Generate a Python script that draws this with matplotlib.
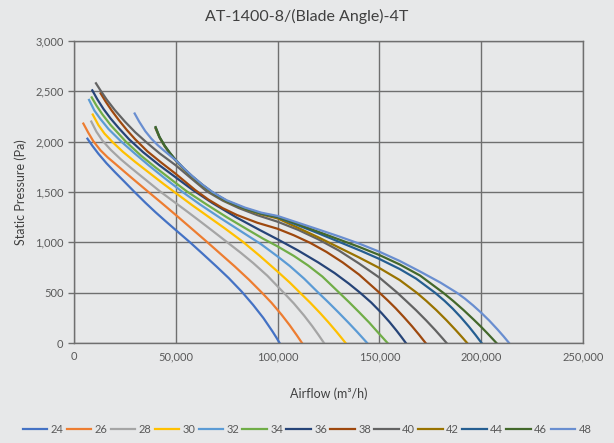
import matplotlib
matplotlib.use("Agg")
import matplotlib.pyplot as plt
from matplotlib.ticker import FuncFormatter

plt.rcParams['font.family'] = ['Lato', 'DejaVu Sans']

angles = ['24', '26', '28', '30', '32', '34', '36', '38', '40', '42', '44', '46', '48']
colors = ['#4472C4', '#ED7D31', '#A5A5A5', '#FFC000', '#5B9BD5', '#70AD47',
          '#264478', '#9E480E', '#636363', '#997300', '#255E91', '#43682B', '#698ED0']

# airflow (thousand m3/h) and static pressure (Pa) for each blade angle
q24 = [6.6, 9, 12, 16, 20, 25, 29.5, 35, 40, 45, 50, 57, 63, 70, 76, 82.4, 88, 93, 97.5, 99.5, 101]
p24 = [2030, 1960, 1880, 1785, 1700, 1598, 1505, 1395, 1300, 1210, 1122, 1000, 890, 760, 645, 510, 378, 249, 115, 51, 0]
q26 = [4.6, 7, 9.5, 13, 16.5, 20, 25, 30, 36, 43, 50, 57, 65, 72, 79, 86, 92.3, 97, 102, 106, 109.5, 112]
p26 = [2180, 2090, 2005, 1915, 1845, 1785, 1698, 1612, 1510, 1392, 1272, 1150, 1010, 885, 760, 628, 500, 400, 280, 175, 75, 0]
q28 = [8.5, 11, 14, 18, 23, 28, 35, 42, 50, 56, 62, 68, 75, 82, 88, 95, 103, 108, 113, 117, 120, 122.8]
p28 = [2200, 2100, 2010, 1920, 1825, 1740, 1625, 1510, 1390, 1300, 1208, 1115, 1005, 895, 795, 668, 500, 393, 273, 168, 83, 0]
q30 = [9.2, 12, 15, 19, 24, 30, 37, 44, 50, 58, 66, 74, 83, 91, 100, 106, 111, 116, 121, 125, 129, 131.5, 133.4]
p30 = [2270, 2165, 2080, 1995, 1900, 1800, 1690, 1580, 1490, 1370, 1255, 1140, 1005, 870, 710, 600, 500, 401, 295, 205, 110, 48, 0]
q32 = [7.4, 10, 13, 17, 23, 30, 37, 45, 53, 62, 72, 82, 92, 100, 106, 113, 120, 125, 130, 135, 139, 142, 144]
p32 = [2415, 2310, 2225, 2125, 2005, 1880, 1760, 1630, 1505, 1375, 1240, 1110, 980, 860, 765, 640, 500, 403, 302, 198, 112, 45, 0]
q34 = [8.7, 11, 14, 18, 25.5, 33, 40, 48, 55.5, 65, 75, 85, 93, 100, 108, 115, 122, 130, 135, 140, 145, 149, 152, 154]
p34 = [2440, 2360, 2270, 2165, 2000, 1860, 1745, 1620, 1505, 1378, 1250, 1130, 1035, 960, 865, 770, 660, 505, 408, 307, 203, 112, 45, 0]
q36 = [9, 11.5, 14.5, 18, 22, 27, 34, 42, 50, 58, 68, 80, 91, 100, 110, 120, 128, 135, 140.5, 146, 151, 155, 158.5, 161, 163]
p36 = [2510, 2420, 2325, 2230, 2135, 2025, 1895, 1765, 1645, 1525, 1390, 1245, 1125, 1030, 920, 800, 695, 590, 500, 402, 299, 208, 121, 55, 0]
q38 = [13.1, 15.5, 18.5, 22, 26, 30, 36, 43, 50, 59.5, 66, 73, 80, 90, 100, 108, 116, 124, 132, 140, 150,
       154, 158, 162, 166, 169.5, 172.7]
p38 = [2480, 2400, 2310, 2215, 2115, 2025, 1905, 1790, 1680, 1520, 1425, 1340, 1272, 1195, 1135, 1070, 995, 905, 800, 680, 500,
       425, 345, 258, 167, 82, 0]
q40 = [10.8, 13, 16, 20, 25, 30, 35.5, 42, 50, 57, 65, 73, 81, 90, 100, 110, 120, 130, 140, 150, 158.5,
       163, 168, 173, 177.5, 181, 183]
p40 = [2580, 2510, 2420, 2315, 2200, 2095, 1995, 1885, 1765, 1645, 1510, 1415, 1340, 1270, 1205, 1125, 1030, 920, 790, 650, 505,
       421, 326, 224, 127, 47, 0]
q42 = [40.1, 42, 44.5, 47, 50, 54, 58, 63, 68, 75, 84, 92, 100, 110, 120, 130, 140, 150, 160, 168.3,
       173, 178, 183, 187.5, 191, 193.1]
p42 = [2130, 2040, 1955, 1885, 1810, 1725, 1650, 1565, 1490, 1405, 1330, 1278, 1238, 1145, 1050, 950, 850, 745, 625, 500,
       419, 326, 225, 128, 49, 0]
q44 = [40.1, 42, 44.5, 47, 50, 54, 58, 63, 68, 75, 84, 92, 100, 110, 120, 132, 141, 150, 160, 168, 177.3,
       182, 186, 190, 194, 197.3, 200.2]
p44 = [2140, 2045, 1960, 1890, 1815, 1730, 1655, 1570, 1495, 1410, 1335, 1285, 1250, 1170, 1090, 990, 915, 835, 735, 640, 500,
       419, 342, 256, 162, 78, 0]
q46 = [40.1, 42, 44.5, 47, 50, 54, 58, 63, 68, 75, 84, 92, 100, 110, 120, 130, 140, 150, 160, 170, 181.3,
       186.3, 191.3, 196.3, 200, 203.3, 205.8, 207.5]
p46 = [2145, 2048, 1962, 1892, 1817, 1732, 1657, 1572, 1497, 1412, 1337, 1287, 1255, 1180, 1105, 1030, 955, 874, 780, 670, 500,
       417, 328, 233, 160, 91, 37, 0]
q48 = [29.8, 32, 35, 38, 41, 44, 47, 50, 54, 58, 63, 68, 75, 84, 92, 100, 110, 120, 130, 140, 150, 160, 170, 180, 188,
       192, 196, 200, 204, 208, 211, 213.7]
p48 = [2280, 2200, 2105, 2030, 1968, 1915, 1865, 1815, 1735, 1660, 1575, 1500, 1418, 1345, 1295, 1262, 1195, 1128, 1060, 988,
       907, 815, 710, 600, 500, 441, 374, 301, 222, 135, 66, 0]

flows = [q24, q26, q28, q30, q32, q34, q36, q38, q40, q42, q44, q46, q48]
pressures = [p24, p26, p28, p30, p32, p34, p36, p38, p40, p42, p44, p46, p48]

bg = '#E7E8E9'
grid_c = '#6F6F6F'
txt = '#595959'

fig = plt.figure(figsize=(6.14, 4.43), dpi=100, facecolor=bg)
ax = fig.add_axes([0.1205, 0.2257, 0.829, 0.6817], facecolor=bg)

for q, p, name, c in zip(flows, pressures, angles, colors):
    ax.plot([v * 1000 for v in q], p, color=c, lw=1.6, label=name)

ax.set_xlim(0, 250000)
ax.set_ylim(0, 3000)
ax.set_xticks(range(0, 250001, 50000))
ax.set_yticks(range(0, 3001, 500))
fmt = FuncFormatter(lambda v, pos: f'{v:,.0f}')
ax.xaxis.set_major_formatter(fmt)
ax.yaxis.set_major_formatter(fmt)
ax.grid(True, color=grid_c, lw=1.0)
ax.set_axisbelow(True)
for s in ax.spines.values():
    s.set_color(grid_c)
    s.set_linewidth(1.0)
ax.tick_params(axis='both', colors=grid_c, labelcolor=txt, labelsize=8, length=4, width=1.0)
ax.tick_params(axis='x', length=0, pad=6)

ax.set_xlabel('Airflow (m³/h)', fontsize=9, color='#404040', labelpad=18)
ax.set_ylabel('Static Pressure (Pa)', fontsize=9, color='#404040', labelpad=6)
fig.suptitle('AT-1400-8/(Blade Angle)-4T', fontsize=11.5, color='#404040', y=0.98)

fig.legend(loc='lower center', bbox_to_anchor=(0.5, -0.005), ncol=13, frameon=False,
           fontsize=8, handlelength=2.2, handletextpad=0.3, columnspacing=0.3,
           labelcolor=txt)

fig.savefig('out.png', dpi=100, facecolor=bg)
